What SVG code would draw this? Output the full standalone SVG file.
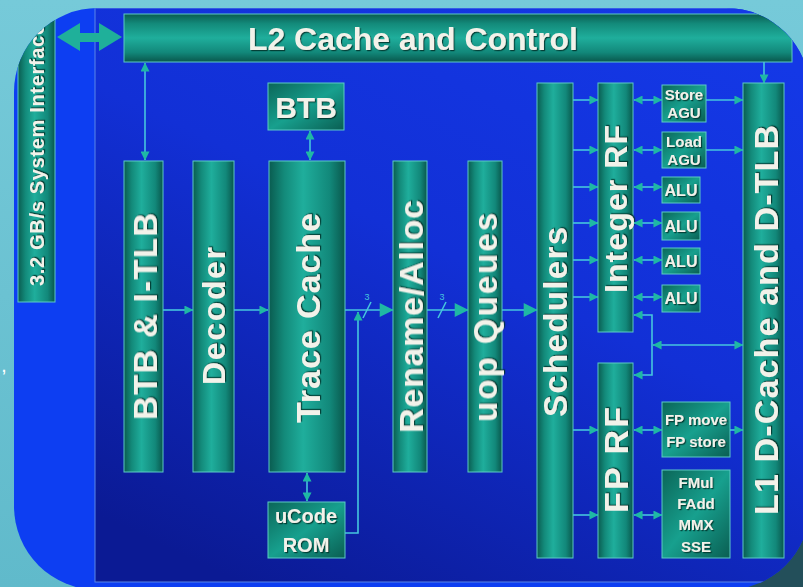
<svg xmlns="http://www.w3.org/2000/svg" width="803" height="587" viewBox="0 0 803 587">
<defs>
<linearGradient id="bgG" x1="0" y1="0" x2="0" y2="1"><stop offset="0" stop-color="#76cad9"/><stop offset="1" stop-color="#60bacb"/></linearGradient>
<linearGradient id="innerG" x1="0.8" y1="0" x2="0.2" y2="1"><stop offset="0" stop-color="#1438e6"/><stop offset="0.45" stop-color="#1230d6"/><stop offset="1" stop-color="#0b1a94"/></linearGradient>
<linearGradient id="barV" x1="0" y1="0" x2="1" y2="0"><stop offset="0" stop-color="#0a5c50"/><stop offset="0.2" stop-color="#138a7a"/><stop offset="0.45" stop-color="#1fae9c"/><stop offset="0.8" stop-color="#12887a"/><stop offset="1" stop-color="#09574c"/></linearGradient>
<linearGradient id="barH" x1="0" y1="0" x2="0" y2="1"><stop offset="0" stop-color="#0a5c50"/><stop offset="0.2" stop-color="#138a7a"/><stop offset="0.5" stop-color="#1fae9c"/><stop offset="0.8" stop-color="#12887a"/><stop offset="1" stop-color="#09574c"/></linearGradient>
<linearGradient id="boxG" x1="0" y1="0" x2="1" y2="1"><stop offset="0" stop-color="#0b6658"/><stop offset="0.5" stop-color="#17a08e"/><stop offset="1" stop-color="#0a5e52"/></linearGradient>
<clipPath id="panelClip"><rect x="14" y="8" width="796" height="582" rx="84"/></clipPath>
<filter id="sh" x="-10%" y="-10%" width="120%" height="130%"><feDropShadow dx="1.2" dy="1.2" stdDeviation="0.6" flood-color="#03302a" flood-opacity="0.85"/></filter>
<marker id="ah" viewBox="0 0 10 10" refX="9.5" refY="5" markerWidth="10" markerHeight="9" markerUnits="userSpaceOnUse" orient="auto-start-reverse"><path d="M0,0 L10,5 L0,10 z" fill="#1fb8a4"/></marker>
<marker id="ahL" viewBox="0 0 10 10" refX="9.5" refY="5" markerWidth="16" markerHeight="14" markerUnits="userSpaceOnUse" orient="auto-start-reverse"><path d="M0,0 L10,5 L0,10 z" fill="#1fb8a4"/></marker>
</defs>
<style>
.bar{fill:url(#barV);stroke:#5ccac6;stroke-width:1}
.hbar{fill:url(#barH);stroke:#5ccac6;stroke-width:1}
.box{fill:url(#boxG);stroke:#5ccac6;stroke-width:1}
.lbl{font-family:"Liberation Sans",Arial,sans-serif;font-weight:bold;fill:#f2f2ea;filter:url(#sh)}
.c{fill:none;stroke:#46c6de;stroke-width:1.6}
.s{marker-end:url(#ah)}
.d{marker-start:url(#ah);marker-end:url(#ah)}
.L{marker-end:url(#ahL)}
</style>
<rect x="0" y="0" width="803" height="587" fill="url(#bgG)"/>
<rect x="640" y="470" width="170" height="130" fill="#234f5a"/>
<g clip-path="url(#panelClip)">
<rect x="14" y="8" width="796" height="582" fill="#0d3ef2"/>
<rect x="95" y="8" width="715" height="574" fill="url(#innerG)" stroke="#5a86e8" stroke-width="1"/>
<g id="sysif"><rect class="bar" x="18" y="0" width="37" height="302"/>
<text class="lbl" font-size="20" transform="translate(44,286) rotate(-90)" textLength="262">3.2 GB/s System Interface</text></g>
<g id="l2"><rect class="hbar" x="124" y="14" width="668" height="48"/>
<text class="lbl" font-size="32" x="413" y="50" text-anchor="middle" textLength="330">L2 Cache and Control</text></g>
</g>
<g id="btbitlb"><rect class="bar" x="124" y="161" width="39" height="311"/>
<text class="lbl" font-size="33" text-anchor="middle" transform="translate(157,316.5) rotate(-90)" textLength="207">BTB &amp; I-TLB</text></g>
<g id="decoder"><rect class="bar" x="193" y="161" width="41" height="311"/>
<text class="lbl" font-size="32" text-anchor="middle" transform="translate(225,316) rotate(-90)" textLength="138">Decoder</text></g>
<g id="btb"><rect class="box" x="268" y="83" width="76" height="47"/>
<text class="lbl" font-size="30" x="306" y="118" text-anchor="middle">BTB</text></g>
<g id="tracecache"><rect class="bar" x="269" y="161" width="76" height="311"/>
<text class="lbl" font-size="34" text-anchor="middle" transform="translate(320,318) rotate(-90)" textLength="210">Trace Cache</text></g>
<g id="ucode"><rect class="box" x="268" y="502" width="77" height="56"/>
<text class="lbl" font-size="20" x="306" y="523" text-anchor="middle">uCode</text>
<text class="lbl" font-size="20" x="306" y="552" text-anchor="middle">ROM</text></g>
<g id="rename"><rect class="bar" x="393" y="161" width="34" height="311"/>
<text class="lbl" font-size="34" text-anchor="middle" transform="translate(423,316.5) rotate(-90)" textLength="233">Rename/Alloc</text></g>
<g id="uopq"><rect class="bar" x="468" y="161" width="34" height="311"/>
<text class="lbl" font-size="33" text-anchor="middle" transform="translate(497,317.5) rotate(-90)" textLength="209">uop Queues</text></g>
<g id="sched"><rect class="bar" x="537" y="83" width="36" height="475"/>
<text class="lbl" font-size="33" text-anchor="middle" transform="translate(567,322) rotate(-90)" textLength="190">Schedulers</text></g>
<g id="intrf"><rect class="bar" x="598" y="83" width="35" height="249"/>
<text class="lbl" font-size="32" text-anchor="middle" transform="translate(627,209) rotate(-90)" textLength="168">Integer RF</text></g>
<g id="fprf"><rect class="bar" x="598" y="363" width="35" height="195"/>
<text class="lbl" font-size="34" text-anchor="middle" transform="translate(628,460) rotate(-90)" textLength="106">FP RF</text></g>
<g id="l1"><rect class="bar" x="743" y="83" width="41" height="475"/>
<text class="lbl" font-size="34" text-anchor="middle" transform="translate(778,320) rotate(-90)" textLength="390">L1 D-Cache and D-TLB</text></g>
<g id="storeagu"><rect class="box" x="662" y="85" width="44" height="37"/>
<text class="lbl" font-size="15" x="684" y="100" text-anchor="middle">Store</text>
<text class="lbl" font-size="15" x="684" y="118" text-anchor="middle">AGU</text></g>
<g id="loadagu"><rect class="box" x="662" y="132" width="44" height="36"/>
<text class="lbl" font-size="15" x="684" y="147" text-anchor="middle">Load</text>
<text class="lbl" font-size="15" x="684" y="165" text-anchor="middle">AGU</text></g>
<g id="alu1"><rect class="box" x="662" y="177" width="38" height="26"/><text class="lbl" font-size="16" x="681" y="196" text-anchor="middle">ALU</text></g>
<g id="alu2"><rect class="box" x="662" y="212" width="38" height="28"/><text class="lbl" font-size="16" x="681" y="232" text-anchor="middle">ALU</text></g>
<g id="alu3"><rect class="box" x="662" y="248" width="38" height="26"/><text class="lbl" font-size="16" x="681" y="267" text-anchor="middle">ALU</text></g>
<g id="alu4"><rect class="box" x="662" y="285" width="38" height="27"/><text class="lbl" font-size="16" x="681" y="304" text-anchor="middle">ALU</text></g>
<g id="fpmove"><rect class="box" x="662" y="402" width="68" height="55"/>
<text class="lbl" font-size="15" x="696" y="425" text-anchor="middle">FP move</text>
<text class="lbl" font-size="15" x="696" y="447" text-anchor="middle">FP store</text></g>
<g id="fpexec"><rect class="box" x="662" y="470" width="68" height="88"/>
<text class="lbl" font-size="15" x="696" y="488" text-anchor="middle">FMul</text>
<text class="lbl" font-size="15" x="696" y="509" text-anchor="middle">FAdd</text>
<text class="lbl" font-size="15" x="696" y="530" text-anchor="middle">MMX</text>
<text class="lbl" font-size="15" x="696" y="552" text-anchor="middle">SSE</text></g>
<g id="connectors">
<path d="M57,37 L80,23 L80,33 L99,33 L99,23 L122,37 L99,51 L99,42 L80,42 L80,51 Z" fill="#1fb09a"/>
<line class="c d" x1="145" y1="63" x2="145" y2="160"/>
<line class="c d" x1="310" y1="131" x2="310" y2="160"/>
<line class="c d" x1="307" y1="473" x2="307" y2="501"/>
<line class="c s" x1="163" y1="310" x2="193" y2="310"/>
<line class="c s" x1="234" y1="310" x2="268" y2="310"/>
<line class="c L" x1="345" y1="310" x2="393" y2="310"/>
<polyline class="c s" points="345,533 358,533 358,312"/>
<line class="c L" x1="427" y1="310" x2="468" y2="310"/>
<line class="c L" x1="502" y1="310" x2="537" y2="310"/>
<line class="c" x1="363" y1="318" x2="371" y2="302"/>
<line class="c" x1="438" y1="318" x2="446" y2="302"/>
<text x="367" y="300" font-family="Liberation Sans,Arial,sans-serif" font-size="9" fill="#46c6de" text-anchor="middle">3</text>
<text x="442" y="300" font-family="Liberation Sans,Arial,sans-serif" font-size="9" fill="#46c6de" text-anchor="middle">3</text>
<line class="c s" x1="573" y1="100" x2="598" y2="100"/>
<line class="c s" x1="573" y1="150" x2="598" y2="150"/>
<line class="c s" x1="573" y1="187" x2="598" y2="187"/>
<line class="c s" x1="573" y1="223" x2="598" y2="223"/>
<line class="c s" x1="573" y1="260" x2="598" y2="260"/>
<line class="c s" x1="573" y1="297" x2="598" y2="297"/>
<line class="c d" x1="634" y1="100" x2="662" y2="100"/>
<line class="c d" x1="634" y1="150" x2="662" y2="150"/>
<line class="c d" x1="634" y1="187" x2="662" y2="187"/>
<line class="c d" x1="634" y1="223" x2="662" y2="223"/>
<line class="c d" x1="634" y1="260" x2="662" y2="260"/>
<line class="c d" x1="634" y1="297" x2="662" y2="297"/>
<line class="c s" x1="706" y1="100" x2="743" y2="100"/>
<line class="c s" x1="706" y1="150" x2="743" y2="150"/>
<line class="c s" x1="764" y1="62" x2="764" y2="83"/>
<path class="c d" d="M634,315 H652 V375 H634"/>
<line class="c d" x1="653" y1="345" x2="743" y2="345"/>
<line class="c s" x1="573" y1="430" x2="598" y2="430"/>
<line class="c s" x1="573" y1="515" x2="598" y2="515"/>
<line class="c d" x1="634" y1="430" x2="662" y2="430"/>
<line class="c s" x1="730" y1="430" x2="743" y2="430"/>
<line class="c d" x1="634" y1="515" x2="662" y2="515"/>
</g>
<text x="2" y="372" font-family="Liberation Sans,Arial,sans-serif" font-size="14" font-weight="bold" fill="#ffffff">,</text>
</svg>
